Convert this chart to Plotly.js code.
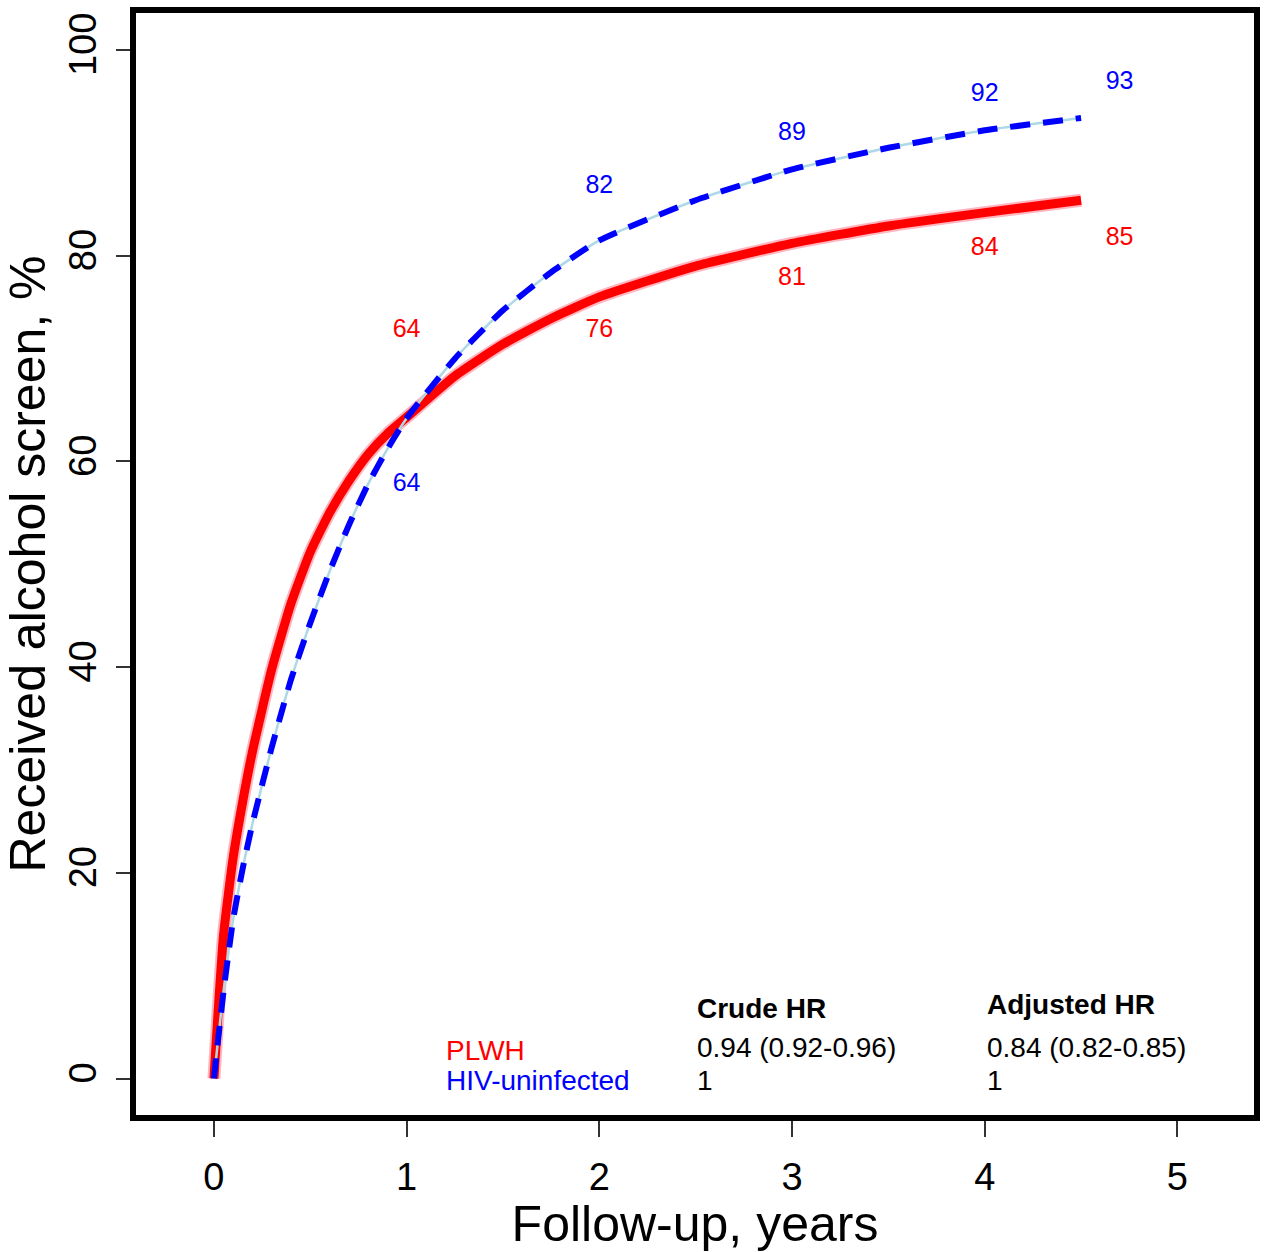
<!DOCTYPE html>
<html>
<head>
<meta charset="utf-8">
<script src="https://cdn.plot.ly/plotly-3.0.1.min.js"></script>
<style>
  html, body { margin: 0; padding: 0; background: #ffffff; }
  #chart { width: 1268px; height: 1252px; }
</style>
</head>
<body>
<div id="chart"></div>
<script>
// ---- Data ----
const followUpYears = [0, 0.02, 0.05, 0.1, 0.15, 0.2, 0.3, 0.4, 0.5, 0.6, 0.7, 0.8, 0.9, 1, 1.25, 1.5, 1.75, 2, 2.5, 3, 3.5, 4, 4.5];
const plwhPct       = [0, 6, 14, 21.5, 27, 31.8, 39.8, 46.2, 51.2, 55, 58.1, 60.7, 62.7, 64.3, 68.3, 71.4, 73.9, 76, 79, 81.2, 82.9, 84.2, 85.4];
const uninfectedPct = [0, 3.5, 8.5, 15.5, 20.5, 24.8, 32.2, 38.8, 44.3, 49.3, 53.8, 57.8, 61.2, 64.2, 70, 74.7, 78.4, 81.5, 85.4, 88.4, 90.5, 92.2, 93.4];

// Numbers printed along the curves
const plwhLabels       = ["64", "76", "81", "84", "85"];
const uninfectedLabels = ["64", "82", "89", "92", "93"];

// Hazard ratio table
const groupNames  = ["PLWH", "HIV-uninfected"];
const crudeHR     = ["0.94 (0.92-0.96)", "1"];
const adjustedHR  = ["0.84 (0.82-0.85)", "1"];
const tableHeads  = ["Crude HR", "Adjusted HR"];

const xTicks = [0, 1, 2, 3, 4, 5];
const yTicks = [0, 20, 40, 60, 80, 100];

// ---- Placement of the curve labels (layout, not data) ----
const plwhLabelPos       = {x: [1, 2, 3, 4, 4.7], y: [72.7, 72.7, 77.8, 80.7, 81.7]};
const uninfectedLabelPos = {x: [1, 2, 3, 4, 4.7], y: [57.7, 86.7, 91.9, 95.7, 96.8]};

const FONT = "Liberation Sans, Arial, Helvetica, sans-serif";
const RED = "#FF0000", BLUE = "#0000FF";
const SMOOTH = 0.5;

const traces = [
  { // pink confidence band under PLWH
    x: followUpYears, y: plwhPct, mode: "lines", type: "scatter",
    line: {color: "#FFB6C1", width: 13, shape: "spline", smoothing: SMOOTH},
    hoverinfo: "skip", showlegend: false
  },
  { // PLWH
    x: followUpYears, y: plwhPct, mode: "lines", type: "scatter",
    line: {color: RED, width: 9, shape: "spline", smoothing: SMOOTH},
    showlegend: false
  },
  { // light blue band under HIV-uninfected
    x: followUpYears, y: uninfectedPct, mode: "lines", type: "scatter",
    line: {color: "#ADD8E6", width: 2.5, shape: "spline", smoothing: SMOOTH},
    hoverinfo: "skip", showlegend: false
  },
  { // HIV-uninfected (dashed)
    x: followUpYears, y: uninfectedPct, mode: "lines", type: "scatter",
    line: {color: BLUE, width: 6, dash: "20px,13px", shape: "spline", smoothing: SMOOTH},
    showlegend: false
  },
  {
    x: plwhLabelPos.x, y: plwhLabelPos.y, text: plwhLabels, mode: "text", type: "scatter",
    textfont: {family: FONT, size: 25, color: RED}, textposition: "middle center",
    showlegend: false, hoverinfo: "skip"
  },
  {
    x: uninfectedLabelPos.x, y: uninfectedLabelPos.y, text: uninfectedLabels, mode: "text", type: "scatter",
    textfont: {family: FONT, size: 25, color: BLUE}, textposition: "middle center",
    showlegend: false, hoverinfo: "skip"
  }
];

const tFont = (color, bold) => ({family: FONT, size: 28, color: color, weight: bold ? "bold" : "normal"});
const annotations = [
  {x: 2.496, y: 6.85, text: "<b>" + tableHeads[0] + "</b>", font: tFont("#000", true)},
  {x: 4.0,   y: 7.15, text: "<b>" + tableHeads[1] + "</b>", font: tFont("#000", true)},
  {x: 1.194, y: 2.77, text: groupNames[0], font: tFont(RED)},
  {x: 1.194, y: -0.24, text: groupNames[1], font: tFont(BLUE)},
  {x: 2.496, y: 3.06, text: crudeHR[0], font: tFont("#000")},
  {x: 2.496, y: -0.24, text: crudeHR[1], font: tFont("#000")},
  {x: 4.0,   y: 3.06, text: adjustedHR[0], font: tFont("#000")},
  {x: 4.0,   y: -0.24, text: adjustedHR[1], font: tFont("#000")}
].map(a => Object.assign({xref: "x", yref: "y", xanchor: "left", yanchor: "middle", showarrow: false}, a));

const layout = {
  width: 1268, height: 1252,
  paper_bgcolor: "#ffffff", plot_bgcolor: "#ffffff",
  margin: {l: 133, r: 11, t: 10, b: 134},
  showlegend: false,
  xaxis: {
    range: [-0.42, 5.413], tickvals: xTicks, ticktext: xTicks.map(String),
    ticks: "outside", ticklen: 18, tickwidth: 2, tickcolor: "#333",
    ticklabelstandoff: 7,
    showgrid: false, zeroline: false, showline: false,
    tickfont: {family: FONT, size: 38, color: "#000"},
    title: {text: "Follow-up, years", font: {family: FONT, size: 50, color: "#000"}, standoff: 3}
  },
  yaxis: {
    range: [-3.84, 103.9], tickvals: yTicks, ticktext: yTicks.map(String),
    ticks: "outside", ticklen: 16, tickwidth: 2, tickcolor: "#333", tickangle: -90,
    ticklabelstandoff: 5,
    showgrid: false, zeroline: false, showline: false,
    tickfont: {family: FONT, size: 38, color: "#000"},
    title: {text: "Received alcohol screen, %", font: {family: FONT, size: 50, color: "#000"}, standoff: 0}
  },
  shapes: [
    {type: "rect", xref: "paper", yref: "paper", x0: 0, x1: 1, y0: 0, y1: 1,
     line: {color: "#000", width: 6}, fillcolor: "rgba(0,0,0,0)", layer: "above"}
  ],
  annotations: annotations
};

Plotly.newPlot("chart", traces, layout, {staticPlot: true, displayModeBar: false});
</script>
</body>
</html>
